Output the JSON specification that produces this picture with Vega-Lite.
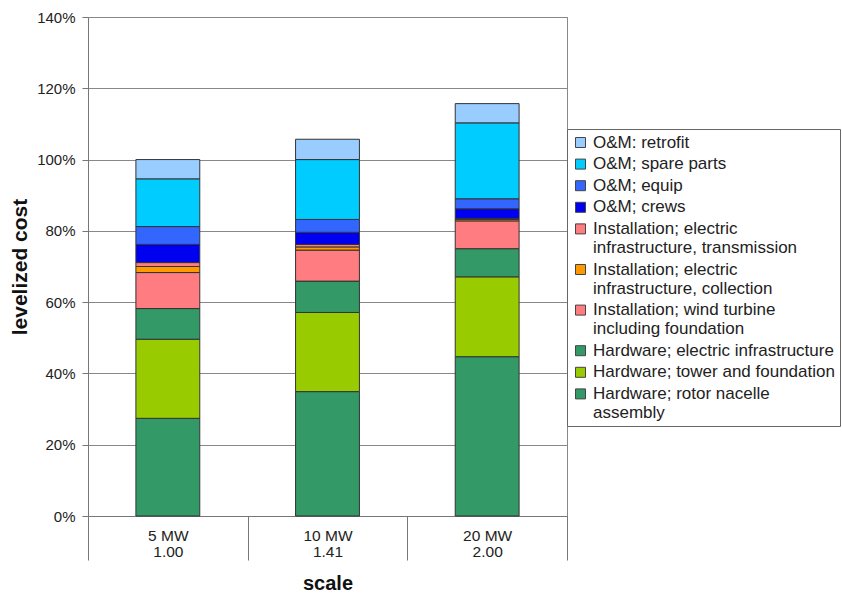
{
  "$schema": "https://vega.github.io/schema/vega-lite/v6.json",
  "width": 479,
  "height": 499,
  "autosize": "none",
  "padding": {"left": 88, "top": 17, "right": 275, "bottom": 77},
  "background": "white",
  "config": {
    "font": "Liberation Sans",
    "view": {"stroke": "#888", "strokeWidth": 1}
  },
  "data": {
    "values": [
      {"s": "5 MW\n1.00", "c": "Hardware; rotor nacelle\nassembly", "v": 27.4, "k": 1},
      {"s": "5 MW\n1.00", "c": "Hardware; tower and foundation", "v": 22.2, "k": 2},
      {"s": "5 MW\n1.00", "c": "Hardware; electric infrastructure", "v": 8.6, "k": 3},
      {"s": "5 MW\n1.00", "c": "Installation; wind turbine\nincluding foundation", "v": 10.1, "k": 4},
      {"s": "5 MW\n1.00", "c": "Installation; electric\ninfrastructure, collection", "v": 1.7, "k": 5},
      {"s": "5 MW\n1.00", "c": "Installation; electric\ninfrastructure, transmission", "v": 1.1, "k": 6},
      {"s": "5 MW\n1.00", "c": "O&M; crews", "v": 5.1, "k": 7},
      {"s": "5 MW\n1.00", "c": "O&M; equip", "v": 5.0, "k": 8},
      {"s": "5 MW\n1.00", "c": "O&M; spare parts", "v": 13.4, "k": 9},
      {"s": "5 MW\n1.00", "c": "O&M: retrofit", "v": 5.4, "k": 10},
      {"s": "10 MW\n1.41", "c": "Hardware; rotor nacelle\nassembly", "v": 34.9, "k": 1},
      {"s": "10 MW\n1.41", "c": "Hardware; tower and foundation", "v": 22.2, "k": 2},
      {"s": "10 MW\n1.41", "c": "Hardware; electric infrastructure", "v": 8.8, "k": 3},
      {"s": "10 MW\n1.41", "c": "Installation; wind turbine\nincluding foundation", "v": 8.7, "k": 4},
      {"s": "10 MW\n1.41", "c": "Installation; electric\ninfrastructure, collection", "v": 0.9, "k": 5},
      {"s": "10 MW\n1.41", "c": "Installation; electric\ninfrastructure, transmission", "v": 0.7, "k": 6},
      {"s": "10 MW\n1.41", "c": "O&M; crews", "v": 3.4, "k": 7},
      {"s": "10 MW\n1.41", "c": "O&M; equip", "v": 3.6, "k": 8},
      {"s": "10 MW\n1.41", "c": "O&M; spare parts", "v": 16.8, "k": 9},
      {"s": "10 MW\n1.41", "c": "O&M: retrofit", "v": 5.7, "k": 10},
      {"s": "20 MW\n2.00", "c": "Hardware; rotor nacelle\nassembly", "v": 44.7, "k": 1},
      {"s": "20 MW\n2.00", "c": "Hardware; tower and foundation", "v": 22.4, "k": 2},
      {"s": "20 MW\n2.00", "c": "Hardware; electric infrastructure", "v": 7.9, "k": 3},
      {"s": "20 MW\n2.00", "c": "Installation; wind turbine\nincluding foundation", "v": 7.8, "k": 4},
      {"s": "20 MW\n2.00", "c": "Installation; electric\ninfrastructure, collection", "v": 0.4, "k": 5},
      {"s": "20 MW\n2.00", "c": "Installation; electric\ninfrastructure, transmission", "v": 0.3, "k": 6},
      {"s": "20 MW\n2.00", "c": "O&M; crews", "v": 2.7, "k": 7},
      {"s": "20 MW\n2.00", "c": "O&M; equip", "v": 2.8, "k": 8},
      {"s": "20 MW\n2.00", "c": "O&M; spare parts", "v": 21.3, "k": 9},
      {"s": "20 MW\n2.00", "c": "O&M: retrofit", "v": 5.4, "k": 10}
    ]
  },
  "mark": {"type": "bar", "width": {"band": 0.4}, "stroke": "#333", "strokeWidth": 1},
  "encoding": {
    "x": {
      "field": "s",
      "type": "nominal",
      "sort": null,
      "scale": {"paddingInner": 0, "paddingOuter": 0},
      "axis": {
        "title": "scale",
        "labelAngle": 0,
        "labelExpr": "split(datum.label, '\\n')",
        "tickBand": "extent",
        "tickSize": 44,
        "labelPadding": -32,
        "labelFontSize": 15.5,
        "labelLineHeight": 16.5,
        "labelColor": "#222",
        "domainColor": "#777",
        "tickColor": "#777",
        "titleFontSize": 20,
        "titleFontWeight": "bold",
        "titleColor": "#111",
        "titlePadding": 13
      }
    },
    "y": {
      "field": "v",
      "type": "quantitative",
      "stack": "zero",
      "scale": {"domain": [0, 140], "nice": false},
      "axis": {
        "title": "levelized cost",
        "values": [0, 20, 40, 60, 80, 100, 120, 140],
        "labelExpr": "datum.value + '%'",
        "grid": true,
        "gridColor": "#888",
        "gridOpacity": 1,
        "domainColor": "#777",
        "tickColor": "#777",
        "tickSize": 6,
        "labelPadding": 7,
        "labelFontSize": 15,
        "labelColor": "#222",
        "titleFontSize": 21,
        "titleFontWeight": "bold",
        "titleColor": "#111",
        "titlePadding": 6
      }
    },
    "color": {
      "field": "c",
      "type": "nominal",
      "scale": {
        "domain": [
          "O&M: retrofit",
          "O&M; spare parts",
          "O&M; equip",
          "O&M; crews",
          "Installation; electric\ninfrastructure, transmission",
          "Installation; electric\ninfrastructure, collection",
          "Installation; wind turbine\nincluding foundation",
          "Hardware; electric infrastructure",
          "Hardware; tower and foundation",
          "Hardware; rotor nacelle\nassembly"
        ],
        "range": ["#99CCFF", "#00CCFF", "#3366FF", "#0000F0", "#FF7C80", "#FF9900", "#FF7C80", "#339966", "#99CC00", "#339966"]
      },
      "legend": {
        "orient": "none",
        "legendX": 479,
        "legendY": 112,
        "title": null,
        "strokeColor": "#666",
        "fillColor": "white",
        "padding": 5,
        "symbolType": "square",
        "symbolSize": 100,
        "symbolStrokeColor": "#444",
        "symbolStrokeWidth": 1,
        "symbolOpacity": 1,
        "labelFontSize": 17,
        "labelLineHeight": 19,
        "labelColor": "#222",
        "labelExpr": "split(datum.label, '\\n')",
        "labelLimit": 300,
        "rowPadding": 3.6
      }
    },
    "order": {"field": "k", "type": "quantitative"}
  }
}
